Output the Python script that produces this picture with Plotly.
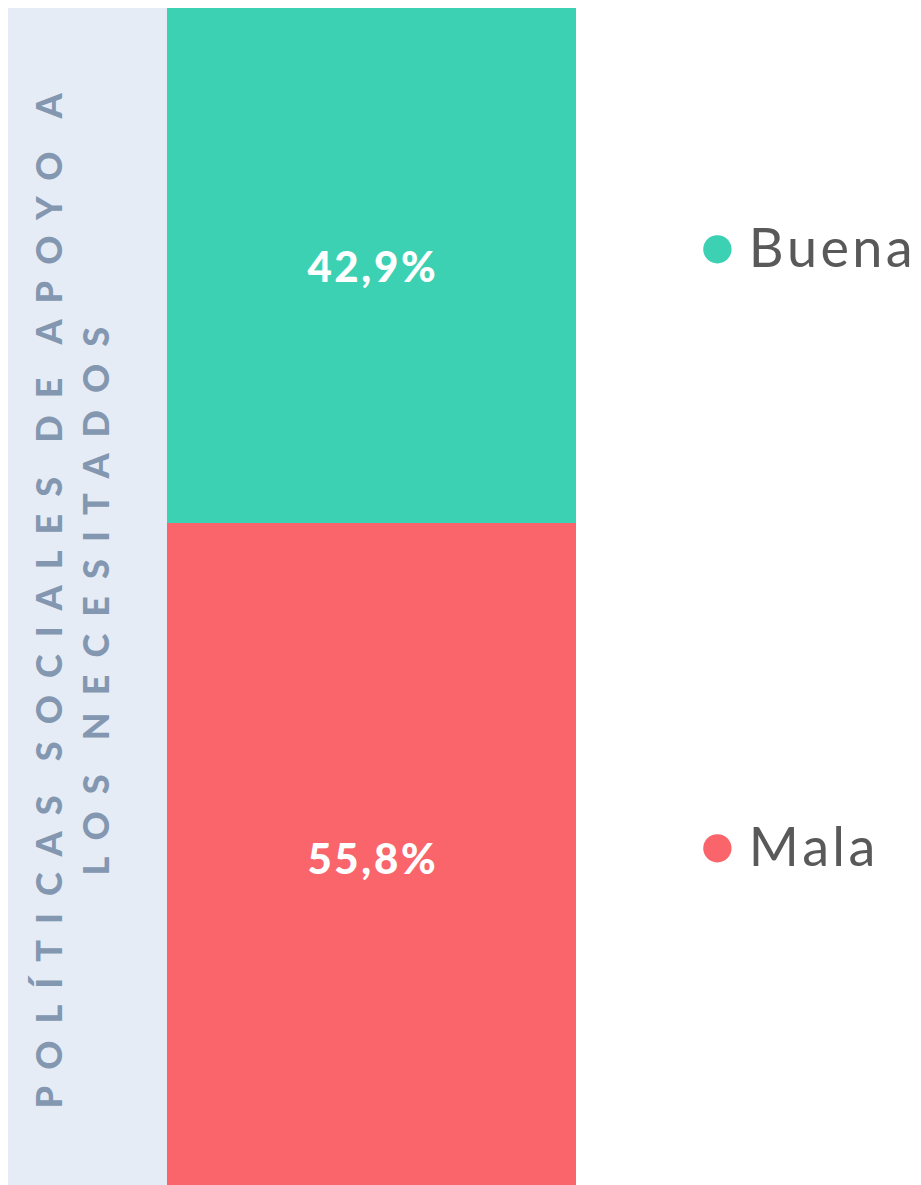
import plotly.graph_objects as go

categorias = ["Mala", "Buena"]
valores = [55.8, 42.9]
colores = ["#f9656b", "#3dd1b3"]
etiquetas = ["55,8%", "42,9%"]
titulo_lineas = ["POLÍTICAS SOCIALES DE APOYO A", "LOS NECESITADOS"]


def espaciar(texto):
    # separa las letras para imitar el espaciado amplio del original
    palabras = texto.split(" ")
    return "\u00a0\u00a0\u00a0\u00a0".join("\u00a0\u00a0".join(p) for p in palabras)


fig = go.Figure()

for cat, val, col, lab in zip(categorias, valores, colores, etiquetas):
    fig.add_trace(go.Bar(
        x=[0], y=[val], name=cat, width=1,
        marker=dict(color=col, line=dict(width=0)),
        text=["\u200a".join(lab)], textposition='inside', insidetextanchor='middle',
        textfont=dict(family='Lato', size=42, color='white', weight=900),
        showlegend=False
    ))

# titulo vertical en el panel izquierdo (una anotacion por linea)
for t, px in zip(titulo_lineas, [0.0687, 0.153]):
    fig.add_annotation(
        x=px, y=0.5, xref='paper', yref='paper', xanchor='center', yanchor='middle',
        text=espaciar(t), textangle=-90, showarrow=False,
        font=dict(family='Lato', size=36, color='#8497b0', weight=900)
    )

# leyenda manual a la derecha
total = sum(valores)
pos_ley = [0.52 * valores[0] / total + 0.001, 1 - 0.5 * valores[1] / total + 0.0175]
for cat, col, py in zip(categorias, colores, pos_ley):
    fig.add_annotation(
        x=1.215, y=py, xref='paper', yref='paper', xanchor='left', yanchor='middle',
        text=f"<span style='color:{col};font-size:58px'>●</span> " + "\u200a".join(cat),
        showarrow=False,
        font=dict(family='Lato', size=54, color='#595959')
    )

fig.update_layout(
    barmode='stack',
    width=921, height=1185,
    paper_bgcolor='white', plot_bgcolor='#e5ecf6',
    margin=dict(l=0, r=353, t=0, b=0),
    bargap=0
)
fig.update_xaxes(range=[-0.889, 0.5], visible=False)
fig.update_yaxes(range=[0, total], visible=False)

fig.write_html("out.html")
